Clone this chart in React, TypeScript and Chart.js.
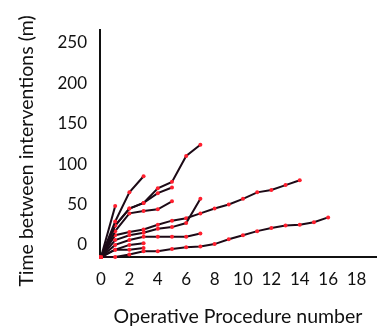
import React, { useEffect, useRef } from 'react';
import { Chart, registerables } from 'chart.js';

Chart.register(...registerables);

// Operative procedure numbers (x)
const procedureNumbers = [0, 1, 2, 3, 4, 5, 6, 7, 8, 9, 10, 11, 12, 13, 14, 15, 16];

// Time between interventions (m), one array per patient, read against the printed axis
const patient1 = [-15, 48];
const patient2 = [-15, 29, 65, 85];
const patient3 = [-15, 24, 45, 52, 70, 78, 110, 124];
const patient4 = [-15, 24, 45, 52, 64, 71];
const patient5 = [-15, 17, 39, 42, 44, 54];
const patient6 = [-15, 6, 12, 15, 20, 22, 27, 57];
const patient7 = [-15, 12, 16, 19, 25, 30, 33, 39, 45, 50, 57, 65, 68, 74, 80];
const patient8 = [-15, 0, 6, 10, 10, 10, 10, 14];
const patient9 = [-15, -15, -12, -8, -8, -5, -3, -2, 1, 7, 12, 17, 21, 24, 25, 28, 34];
const patient10 = [-15, -6, 0, 2];
const patient11 = [-15, -6, -6, -4];

const allPatients = [
  patient1, patient2, patient3, patient4, patient5, patient6,
  patient7, patient8, patient9, patient10, patient11,
];

const xTickValues = [0, 2, 4, 6, 8, 10, 12, 14, 16, 18];
const yTickValues = [0, 50, 100, 150, 200, 250];
const xMin = -0.07;
const xMax = 19.37;
const yMin = -15;
const yMax = 266;

const xTitle = 'Operative Procedure number';
const yTitle = 'Time between interventions (m)';

const FONT = "Lato, 'Open Sans', sans-serif";
const LINE_COLOR = '#1c0a16';
const POINT_COLOR = '#ff1f2e';
const TEXT_COLOR = '#111111';

// draws the y-axis title as canvas text, centred a little below the scale's middle
const yTitlePlugin = {
  id: 'yTitlePlugin',
  afterDraw(chart: any) {
    const ctx = chart.ctx;
    ctx.save();
    ctx.translate(27, 151);
    ctx.rotate(-Math.PI / 2);
    ctx.font = `19.5px ${FONT}`;
    ctx.fillStyle = TEXT_COLOR;
    ctx.textAlign = 'center';
    ctx.textBaseline = 'middle';
    ctx.fillText(yTitle, 0, 0);
    ctx.restore();
  },
};

export default function App() {
  const ref = useRef<HTMLCanvasElement>(null);

  useEffect(() => {
    if (!ref.current) return;
    const chart = new Chart(ref.current, {
      type: 'line',
      data: {
        datasets: allPatients.map((values, i) => ({
          label: 'Patient ' + (i + 1),
          data: values.map((v, j) => ({ x: procedureNumbers[j], y: v })),
          borderColor: LINE_COLOR,
          borderWidth: 2,
          pointRadius: 2,
          pointBorderWidth: 0,
          pointBackgroundColor: POINT_COLOR,
          pointBorderColor: POINT_COLOR,
          tension: 0,
          clip: false as any,
        })),
      },
      options: {
        responsive: false,
        animation: false,
        layout: { padding: { top: 30, right: -4, bottom: 0, left: 0 } },
        plugins: {
          legend: { display: false },
          tooltip: { enabled: false },
        },
        scales: {
          x: {
            type: 'linear',
            min: xMin,
            max: xMax,
            afterBuildTicks: (s: any) => {
              s.ticks = xTickValues.map((v) => ({ value: v }));
            },
            afterFit: (s: any) => {
              s.height = 69;
            },
            grid: { display: false, drawTicks: false },
            border: { display: true, color: '#111', width: 2 },
            ticks: {
              padding: 12,
              color: TEXT_COLOR,
              maxRotation: 0,
              autoSkip: false,
              font: { family: FONT, size: 17 },
            },
            title: {
              display: true,
              text: xTitle,
              color: TEXT_COLOR,
              padding: 0,
              font: { family: FONT, size: 19.5, lineHeight: 1 },
            },
          },
          y: {
            type: 'linear',
            min: yMin,
            max: yMax,
            afterBuildTicks: (s: any) => {
              s.ticks = yTickValues.map((v) => ({ value: v }));
            },
            afterFit: (s: any) => {
              s.width = 100;
            },
            grid: { display: false, drawTicks: false },
            border: { display: true, color: '#111', width: 2 },
            ticks: {
              padding: 13,
              color: TEXT_COLOR,
              autoSkip: false,
              font: { family: FONT, size: 17 },
            },
            title: { display: false },
          },
        },
      },
      plugins: [yTitlePlugin],
    });
    return () => chart.destroy();
  }, []);

  return (
    <canvas
      ref={ref}
      width={380}
      height={326}
      style={{ position: 'absolute', left: 0, top: 0, display: 'block' }}
    />
  );
}
